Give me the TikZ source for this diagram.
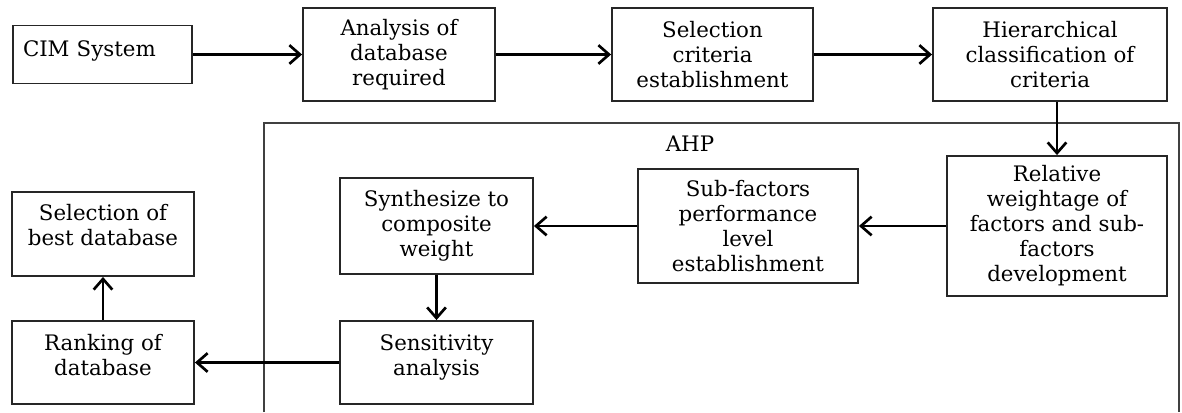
\documentclass[tikz,border=0pt]{standalone}
\usepackage{fontspec}
\setmainfont{DejaVu Serif}
\usetikzlibrary{arrows.meta}

\begin{document}
\begin{tikzpicture}[x=0.75pt, y=-0.75pt, font=\fontsize{16pt}{18.75pt}\selectfont,
    blk/.style 2 args={draw=black!85, line width=1.4pt, inner sep=0pt, align=center,
        minimum width=#1*0.75pt, minimum height=#2*0.75pt},
    flow/.style={line width=2pt, -{Straight Barb[length=8pt, width=14pt]}}]
    \useasboundingbox (0,0) rectangle (1182,412);
    % AHP frame (open at the bottom)
    \draw[draw=black!75, line width=1.3pt] (264,412) |- (1179,123) -- (1179,412);
    \node (ahp) at (690,144) {AHP};
    % top row
    \node[blk={179}{58}, align=left, text width=119.25pt, inner xsep=7.5pt, text depth=9pt] (cim) at (102.5,54.5) {CIM System};
    \node[blk={192}{93}] (ana) at (399,54.5) {Analysis of\\database\\required};
    \node[blk={201}{93}] (sel) at (712.5,54.5) {Selection\\criteria\\establishment};
    \node[blk={234}{93}] (hier) at (1050,54.5) {Hierarchical\\classification of\\criteria};
    % AHP steps
    \node[blk={220}{140}] (rel) at (1057,226) {Relative\\weightage of\\factors and sub-\\factors\\development};
    \node[blk={220}{114}] (sub) at (748,226) {Sub-factors\\performance\\level\\establishment};
    \node[blk={193}{96}] (syn) at (436.5,226) {Synthesize to\\composite\\weight};
    \node[blk={193}{83}, text depth=11pt] (sens) at (436.5,362.5) {Sensitivity\\analysis};
    % result
    \node[blk={182}{83}, text depth=11pt] (rank) at (103,362.5) {Ranking of\\database};
    \node[blk={182}{84}, text depth=13pt] (best) at (103,234) {Selection of\\best database};
    % connectors
    \draw[flow] (cim) -- (ana);
    \draw[flow] (ana) -- (sel);
    \draw[flow] (sel) -- (hier);
    \draw[flow] (hier.south -| rel.north) -- (rel.north);
    \draw[flow] (rel) -- (sub);
    \draw[flow] (sub) -- (syn);
    \draw[flow] (syn) -- (sens);
    \draw[flow] (sens) -- (rank);
    \draw[flow] (rank) -- (best);
\end{tikzpicture}
\end{document}
